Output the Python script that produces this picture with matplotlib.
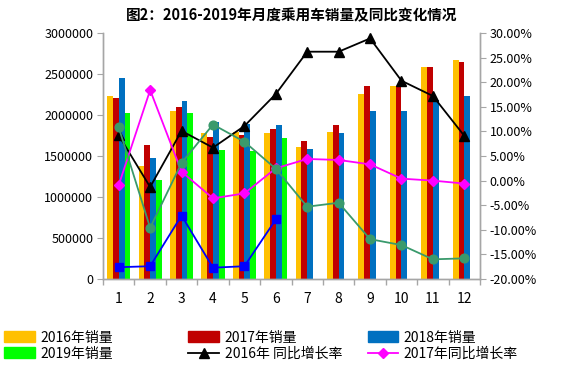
#!/usr/bin/env python3
"""
Monthly passenger car sales 2016-2019 (bars) with year-on-year growth rates (lines).
"""

import numpy as np
import matplotlib
matplotlib.use('Agg')
import matplotlib.pyplot as plt
from matplotlib.patches import Patch
from matplotlib.lines import Line2D

# Data

months = ['1', '2', '3', '4', '5', '6', '7', '8', '9', '10', '11', '12']

# Monthly sales (vehicles)
sales_2016 = [2232000, 1378000, 2049000, 1777000, 1797000, 1784000,
              1606000, 1797000, 2260000, 2350000, 2585000, 2675000]
sales_2017 = [2211000, 1634000, 2094000, 1728000, 1752000, 1829000,
              1679000, 1874000, 2350000, 2350000, 2585000, 2646000]
sales_2018 = [2447000, 1472000, 2167000, 1915000, 1886000, 1874000,
              1589000, 1780000, 2053000, 2053000, 2180000, 2228000]
sales_2019 = [2021000, 1210000, 2021000, 1573000, 1561000, 1723000]

# Year-on-year growth (%)
yoy_2016 = [9.2, -1.3, 10.1, 6.7, 11.1, 17.6, 26.2, 26.2, 28.9, 20.3, 17.2, 9.1]
yoy_2017 = [-0.9, 18.4, 1.8, -3.6, -2.6, 2.5, 4.4, 4.2, 3.3, 0.4, 0.0, -0.6]
yoy_2018 = [10.8, -9.6, 3.6, 11.4, 7.9, 2.4, -5.3, -4.5, -11.9, -13.1, -16.0, -15.8]
yoy_2019 = [-17.6, -17.4, -7.1, -17.7, -17.4, -7.9]

# Styling

plt.rcParams['font.family'] = ['Noto Sans CJK SC', 'DejaVu Sans']
grey = '#A6A6A6'
bar_colors = ['#FFC000', '#C00000', '#0070C0', '#00FF00']

fig = plt.figure(figsize=(5.67, 3.70), dpi=100)
ax = fig.add_axes([0.1817, 0.2459, 0.8466 - 0.1817, 0.9108 - 0.2459])
ax2 = ax.twinx()

x = np.arange(1, len(months) + 1)
width = 0.185

# Bars
all_sales = [sales_2016, sales_2017, sales_2018, sales_2019]
for k, (vals, col) in enumerate(zip(all_sales, bar_colors)):
    xs = x[:len(vals)] + (k - 1.5) * width
    ax.bar(xs, vals, width=width, color=col, zorder=2)

# Growth lines on the right axis
ax2.plot(x, yoy_2016, color='black', lw=1.3, marker='^', ms=7, zorder=3)
ax2.plot(x, yoy_2017, color='#FF00FF', lw=1.3, marker='D', ms=5.5, zorder=4)
ax2.plot(x, yoy_2018, color='#3A9A6C', lw=1.3, marker='o', ms=6.3, zorder=5)
ax2.plot(x[:len(yoy_2019)], yoy_2019, color='#0000FF', lw=1.3, marker='s',
         ms=6.3, zorder=6)

# Axes formatting
ax.set_xlim(0.5, 12.5)
ax.set_ylim(0, 3000000)
ax.set_yticks(np.arange(0, 3000001, 500000))
ax.set_yticklabels([str(v) for v in range(0, 3000001, 500000)])
ax.set_xticks(x)
ax.set_xticklabels(months)
ax.set_xticks(np.arange(0.5, 12.6, 1), minor=True)
ax.tick_params(axis='x', which='major', length=0, pad=9, labelsize=10)
ax.tick_params(axis='x', which='minor', length=4, color=grey, width=1)
ax.tick_params(axis='y', length=4, color=grey, labelsize=9, pad=3)

ax2.set_ylim(-20, 30)
ax2.set_yticks(np.arange(-20, 31, 5))
ax2.set_yticklabels(['{:.2f}%'.format(v) for v in range(-20, 31, 5)])
ax2.tick_params(axis='y', length=4, color=grey, labelsize=9, pad=3)

for a in (ax, ax2):
    a.spines['top'].set_visible(False)
    for s in ('left', 'right', 'bottom'):
        a.spines[s].set_color(grey)
        a.spines[s].set_linewidth(1)

# Title
fig.text(0.514, 0.958, '图2：2016-2019年月度乘用车销量及同比变化情况',
         ha='center', va='center', fontsize=10.5, fontweight='bold')

# Legend: three columns, placed one by one
col1 = [Patch(color=bar_colors[0], label='2016年销量'),
        Patch(color=bar_colors[3], label='2019年销量')]
col2 = [Patch(color=bar_colors[1], label='2017年销量'),
        Line2D([], [], color='black', lw=1.3, marker='^', ms=7,
               label='2016年 同比增长率')]
col3 = [Patch(color=bar_colors[2], label='2018年销量'),
        Line2D([], [], color='#FF00FF', lw=1.3, marker='D', ms=5.5,
               label='2017年同比增长率')]

for handles, xpos in zip([col1, col2, col3], [0.0, 0.325, 0.641]):
    fig.legend(handles=handles, loc='center left',
               bbox_to_anchor=(xpos, 0.066), frameon=False, fontsize=10,
               handlelength=2.2, handleheight=0.8, handletextpad=0.4,
               labelspacing=0.15, borderaxespad=0, borderpad=0.3)

fig.savefig('out.png', dpi=100)
